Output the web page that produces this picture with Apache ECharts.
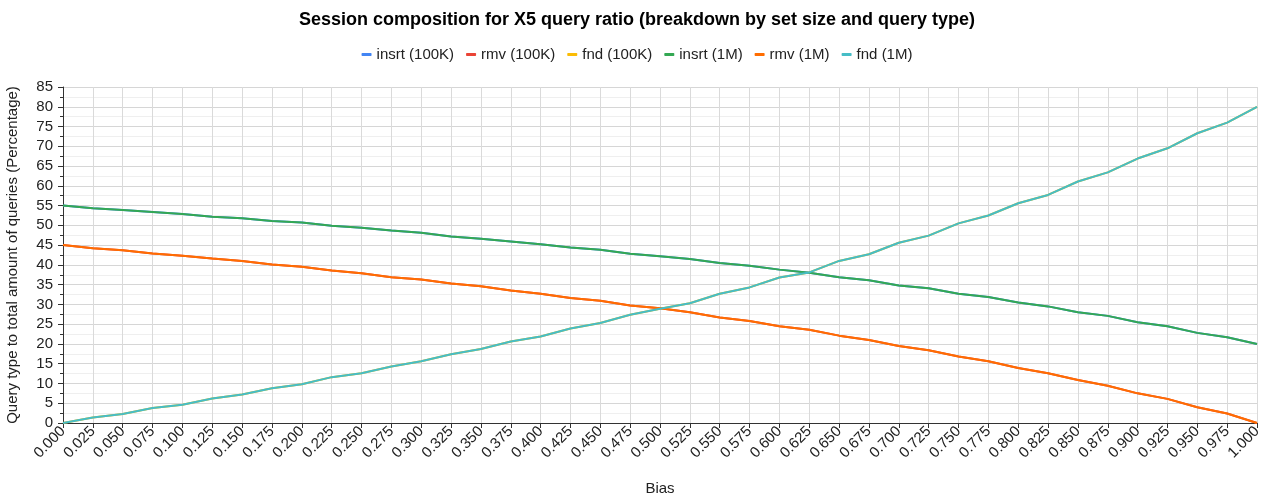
<!DOCTYPE html>
<html>
<head>
<meta charset="utf-8">
<script src="https://cdn.jsdelivr.net/npm/echarts@6/dist/echarts.min.js"></script>
<style>
  html, body { margin: 0; padding: 0; background: #fff; }
  #chart { width: 1274px; height: 497px; }
</style>
</head>
<body>
<div id="chart"></div>
<script>
// bias values on the x axis
let biasLabels = ['0.000','0.025','0.050','0.075','0.100','0.125','0.150','0.175','0.200','0.225',
  '0.250','0.275','0.300','0.325','0.350','0.375','0.400','0.425','0.450','0.475',
  '0.500','0.525','0.550','0.575','0.600','0.625','0.650','0.675','0.700','0.725',
  '0.750','0.775','0.800','0.825','0.850','0.875','0.900','0.925','0.950','0.975','1.000'];

// 1M set size (visible lines)
let insrt1M = [55.0,54.3,53.9,53.4,52.9,52.2,51.8,51.1,50.7,49.9,
  49.4,48.7,48.1,47.2,46.6,45.9,45.2,44.4,43.8,42.8,
  42.2,41.5,40.5,39.8,38.8,38.0,36.9,36.1,34.8,34.1,
  32.7,31.9,30.5,29.5,28.0,27.1,25.5,24.5,22.8,21.7,20.0];
let rmv1M = [45.0,44.2,43.7,42.9,42.3,41.6,41.0,40.1,39.5,38.6,
  37.9,36.9,36.3,35.3,34.6,33.5,32.7,31.6,30.9,29.7,
  29.0,28.0,26.7,25.8,24.5,23.6,22.1,21.0,19.5,18.4,
  16.8,15.6,13.9,12.6,10.9,9.4,7.5,6.1,4.0,2.4,0.0];
let fnd1M = [0.0,1.4,2.3,3.8,4.6,6.2,7.2,8.8,9.8,11.6,
  12.6,14.3,15.6,17.4,18.7,20.6,21.9,23.9,25.3,27.4,
  28.9,30.3,32.7,34.3,36.8,38.1,41.0,42.7,45.6,47.4,
  50.5,52.5,55.6,57.7,61.1,63.4,66.9,69.5,73.3,76.0,80.0];

// 100K set size - drawn underneath, same ratios
let insrt100K = insrt1M.slice();
let rmv100K = rmv1M.slice();
let fnd100K = fnd1M.slice();

let seriesNames = ['insrt (100K)','rmv (100K)','fnd (100K)','insrt (1M)','rmv (1M)','fnd (1M)'];
let seriesColors = ['#4285F4','#EA4335','#FBBC04','#34A853','#FF6D01','#46BDC6'];
let seriesData = [insrt100K, rmv100K, fnd100K, insrt1M, rmv1M, fnd1M];

let myChart = echarts.init(document.getElementById('chart'));

myChart.setOption({
  textStyle: { fontFamily: 'Liberation Sans, Arial, sans-serif' },
  color: seriesColors,
  title: {
    text: 'Session composition for X5 query ratio (breakdown by set size and query type)',
    left: 'center',
    top: 6,
    textStyle: { fontSize: 18, fontWeight: 'bold', color: '#000' }
  },
  legend: {
    top: 42,
    left: 'center',
    icon: 'roundRect',
    itemWidth: 10,
    itemHeight: 3,
    itemGap: 12,
    textStyle: { fontSize: 15, color: '#222' },
    data: seriesNames
  },
  grid: { left: 63, right: 17, top: 87, bottom: 74, containLabel: false, outerBoundsMode: 'none' },
  xAxis: {
    type: 'category',
    data: biasLabels,
    boundaryGap: false,
    name: 'Bias',
    nameLocation: 'middle',
    nameGap: 58,
    nameTextStyle: { fontSize: 15, color: '#222' },
    axisLine: { lineStyle: { color: '#333', width: 1 } },
    axisTick: { show: true, alignWithLabel: true, length: 5, lineStyle: { color: '#333' } },
    axisLabel: { rotate: 45, fontSize: 15, color: '#222', interval: 0, margin: 6 },
    splitLine: { show: true, lineStyle: { color: '#dadada' } }
  },
  yAxis: {
    type: 'value',
    min: 0,
    max: 85,
    interval: 5,
    name: 'Query type to total amount of queries (Percentage)',
    nameLocation: 'middle',
    nameGap: 43,
    nameTextStyle: { fontSize: 15, color: '#222' },
    axisLine: { show: true, lineStyle: { color: '#333' } },
    axisTick: { show: true, length: 5, lineStyle: { color: '#333' } },
    minorTick: { show: true, splitNumber: 2, length: 3, lineStyle: { color: '#333' } },
    axisLabel: { fontSize: 15, color: '#222', margin: 10 },
    splitLine: { show: true, lineStyle: { color: '#d6d6d6' } },
    minorSplitLine: { show: true, lineStyle: { color: '#efefef' } }
  },
  series: seriesNames.map(function (name, i) {
    return {
      name: name,
      type: 'line',
      data: seriesData[i],
      showSymbol: false,
      symbol: 'none',
      lineStyle: { width: 2, color: seriesColors[i] },
      itemStyle: { color: seriesColors[i] },
      animation: false
    };
  })
});
</script>
</body>
</html>
